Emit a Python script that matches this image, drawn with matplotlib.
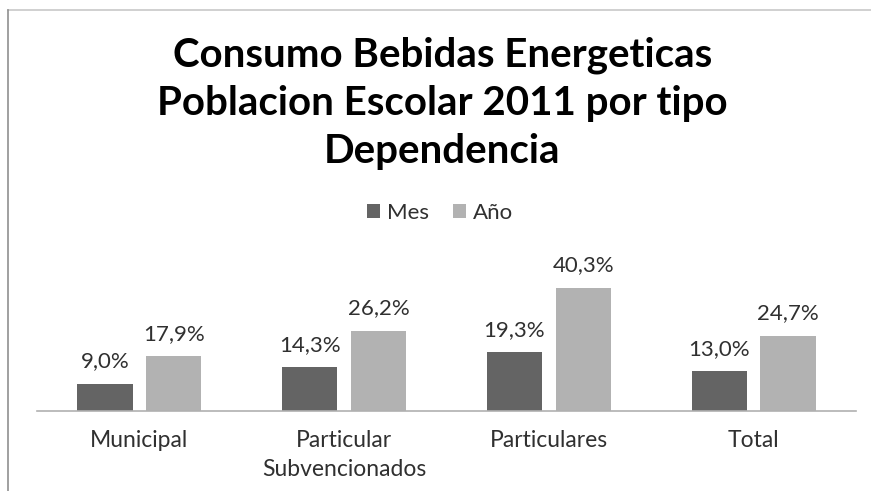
import numpy as np
import matplotlib.pyplot as plt
from matplotlib.lines import Line2D

plt.rcParams['font.family'] = ['Lato', 'DejaVu Sans']

# -----------------------------
# Data
# -----------------------------
categories = ["Municipal", "Particular\nSubvencionados", "Particulares", "Total"]
mes = [9.0, 14.3, 19.3, 13.0]
anio = [17.9, 26.2, 40.3, 24.7]
series_names = ["Mes", "Año"]

dark = "#646464"
light = "#b2b2b2"

# -----------------------------
# Plot
# -----------------------------
fig = plt.figure(figsize=(8.71, 4.91), dpi=100)
ax = fig.add_axes([37 / 871, 80 / 491, 819 / 871, 152.5 / 491])

x = np.arange(len(categories))
w = 0.27
off = 0.168
b1 = ax.bar(x - off, mes, w, color=dark, label=series_names[0])
b2 = ax.bar(x + off, anio, w, color=light, label=series_names[1])

for bars, vals in [(b1, mes), (b2, anio)]:
    for r, v in zip(bars, vals):
        ax.annotate(f"{v:.1f}%".replace(".", ","), (r.get_x() + r.get_width() / 2, v),
                    xytext=(0, 9), textcoords="offset points",
                    ha="center", va="bottom", fontsize=16, color="#303030")

ax.set_xlim(-0.5, len(categories) - 0.5)
ax.set_ylim(0, 50)
ax.set_yticks([])
ax.set_xticks(x)
ax.set_xticklabels(categories, fontsize=16.5, color="#303030", linespacing=1.45)
ax.tick_params(axis="x", length=0, pad=14)
for s in ["top", "right", "left"]:
    ax.spines[s].set_visible(False)
ax.spines["bottom"].set_color("#b0b0b0")
ax.spines["bottom"].set_linewidth(1.2)

fig.legend(handles=[b1, b2], loc="center", bbox_to_anchor=(0.505, 1 - 213 / 491),
           ncol=2, frameon=False, fontsize=16, handlelength=0.6, handleheight=0.6,
           handletextpad=0.3, columnspacing=1.1, labelcolor="#303030")

fig.text(0.508, 1 - 103 / 491,
         "Consumo Bebidas Energeticas\nPoblacion Escolar 2011 por tipo\nDependencia",
         ha="center", va="center", fontsize=29, fontweight="bold", linespacing=1.36)

# chart frame (top and left edges)
fig.add_artist(Line2D([8 / 871, 1], [1 - 10 / 491, 1 - 10 / 491], color="#c8c8c8", lw=1.2))
fig.add_artist(Line2D([8 / 871, 8 / 871], [0, 1 - 10 / 491], color="#909090", lw=1.2))

fig.savefig("out.png", dpi=100)
